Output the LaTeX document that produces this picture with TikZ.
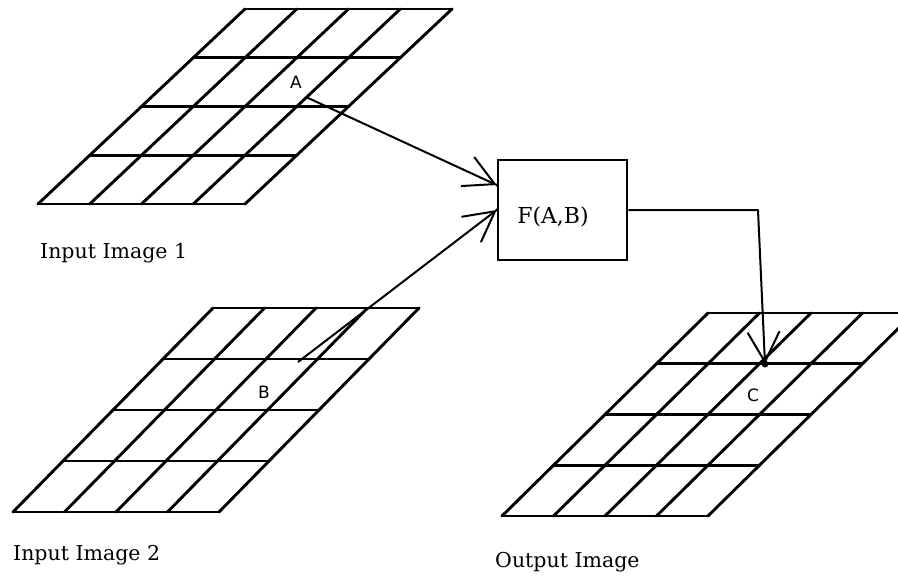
\documentclass[tikz,border=0pt]{standalone}
\usepackage{fontspec}
\setmainfont{DejaVu Serif}
\setsansfont{DejaVu Sans}
\usetikzlibrary{arrows.meta,calc}

% sheared 4x4 grid: lower-left x, lower-left y, width, shear, height
\newcommand\pixgrid[5]{%
  \foreach \i in {0,...,4} {
    \draw[gridline] ({#1+#4*\i/4},{#2-#5*\i/4}) -- ++(#3,0);
    \draw[gridline] ({#1+#3*\i/4},#2) -- ++(#4,-#5);
  }}

\begin{document}
\begin{tikzpicture}[x=1pt,y=-1pt,
  gridline/.style={line width=2.9pt, line cap=round, line join=round},
  link/.style={line width=2pt, line join=round,
    -{Straight Barb[length=30pt,width=32pt,line width=2pt]}},
  fbox/.style={draw, line width=2.6pt, minimum width=129pt,
    minimum height=100pt, inner sep=0pt},
  caption/.style={anchor=base west, inner sep=0pt,
    font=\fontsize{20.5}{24}\selectfont},
  cell/.style={inner sep=0pt, font=\sffamily\fontsize{17}{20}\selectfont},
]
\useasboundingbox (0,0) rectangle (898,576);
\clip (0,0) rectangle (898,576);

% the three images
\pixgrid{38}{204}{207}{207}{195}
\pixgrid{13}{512}{206}{200}{204}
\pixgrid{502}{516}{206}{206}{203}

% pixel labels and sample points
\node[cell] (la) at (296,82) {A};
\node[cell] (lb) at (264,392) {B};
\node[cell] (lc) at (753,395) {C};
\coordinate (pA) at (306,97);
\coordinate (pB) at (298,362);
\coordinate (pC) at (765,364);

% the function box
\node[fbox] (box) at (562.5,210) {};
\node[anchor=base, inner sep=0pt, font=\fontsize{22}{26}\selectfont]
  (ftext) at (553,223) {F(A,B)};
\coordinate (bend) at (758,210);

% connectors
\draw[link] (pA) -- ([yshift=25pt]box.west);
\draw[link] (pB) -- (box.west);
\draw[link] (box.east) -- (bend) -- (pC);
\fill (pC) circle (3.5pt);
\fill ([yshift=25pt]box.west) circle (1.6pt);
\fill (box.west) circle (1.6pt);

% captions
\node[caption] (cap1) at (40,258) {Input Image 1};
\node[caption] (cap2) at (13,560) {Input Image 2};
\node[caption] (cap3) at (495,567) {Output Image};
\end{tikzpicture}
\end{document}
